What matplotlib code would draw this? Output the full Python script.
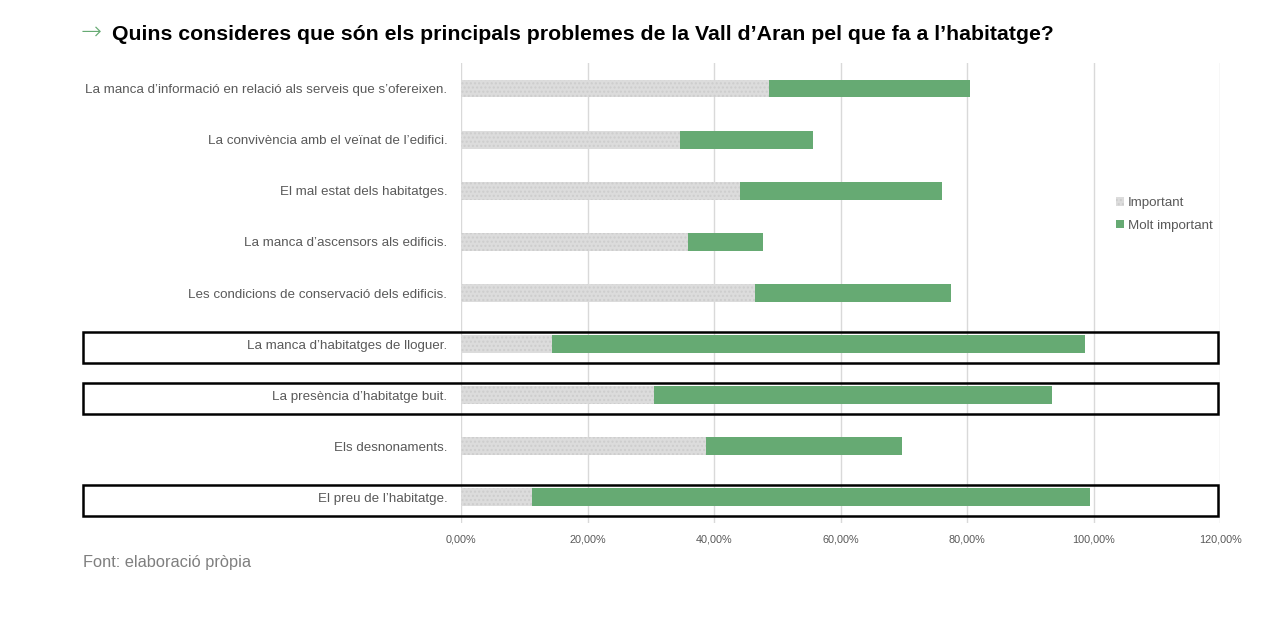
import matplotlib
matplotlib.use("Agg")
import matplotlib.pyplot as plt
from matplotlib.patches import Rectangle, Patch
from matplotlib.ticker import FuncFormatter
from matplotlib.transforms import blended_transform_factory

# data (percent), top row first
problems = [
    "La manca d\u2019informació en relació als serveis que s\u2019ofereixen.",
    "La convivència amb el veïnat de l\u2019edifici.",
    "El mal estat dels habitatges.",
    "La manca d\u2019ascensors als edificis.",
    "Les condicions de conservació dels edificis.",
    "La manca d\u2019habitatges de lloguer.",
    "La presència d\u2019habitatge buit.",
    "Els desnonaments.",
    "El preu de l\u2019habitatge.",
]
important = [48.7, 34.5, 44.1, 35.9, 46.4, 14.3, 30.5, 38.7, 11.2]
molt_important = [31.7, 21.1, 31.9, 11.8, 31.0, 84.3, 62.9, 31.0, 88.2]
highlighted = [5, 6, 8]
xticks = [0, 20, 40, 60, 80, 100, 120]

GREEN = "#66AA73"
GREY = "#DCDCDC"
TXT = "#595959"
fam = ["Liberation Sans", "DejaVu Sans"]

fig = plt.figure(figsize=(12.8, 6.2), dpi=100)
ax = fig.add_axes([461.3 / 1280, 1 - 523 / 620, 759 / 1280, 460 / 620])

pos = list(range(len(problems)))
ax.barh(pos, important, height=0.35, color=GREY, edgecolor="#CDCDCD",
        linewidth=0, hatch="....", label="Important", zorder=2)
ax.barh(pos, molt_important, left=important, height=0.35, color=GREEN,
        linewidth=0, label="Molt important", zorder=2)

ax.set_xlim(0, 120)
ax.set_ylim(len(problems) - 0.5, -0.5)
ax.set_xticks(xticks)
ax.xaxis.set_major_formatter(FuncFormatter(lambda v, p: f"{v:.2f}%".replace(".", ",")))
ax.set_yticks(pos)
ax.set_yticklabels(problems)
ax.grid(axis="x", color="#D9D9D9", linewidth=1, zorder=0)
ax.tick_params(axis="y", length=0, pad=10, labelsize=9.6, labelcolor=TXT)
ax.tick_params(axis="x", length=0, pad=8, labelsize=7.8, labelcolor=TXT)
for lab in ax.get_yticklabels() + ax.get_xticklabels():
    lab.set_family(fam)
for s in ax.spines.values():
    s.set_visible(False)

# boxes around the key rows
tr = blended_transform_factory(fig.transFigure, ax.transData)
for r in highlighted:
    ax.add_patch(Rectangle((83 / 1280, r - 0.245), (1218 - 83) / 1280, 0.61,
                           transform=tr, fill=False, edgecolor="black",
                           linewidth=1.8, clip_on=False, zorder=5))

handles = [Patch(facecolor=GREY, edgecolor="#CDCDCD", linewidth=0, hatch="...."),
           Patch(facecolor=GREEN, linewidth=0)]
leg = fig.legend(handles, ["Important", "Molt important"], loc="upper left",
                 bbox_to_anchor=(1104 / 1280, 1 - 185 / 620), frameon=False,
                 handlelength=0.6, handleheight=0.6, handletextpad=0.3,
                 labelspacing=0.8, prop={"family": fam, "size": 9.6})
for t in leg.get_texts():
    t.set_color(TXT)

fig.text(81 / 1280, 1 - 33 / 620, "\u2192", color=GREEN, fontsize=18,
         va="center", fontweight="light")
fig.text(112 / 1280, 1 - 34 / 620,
         "Quins consideres que són els principals problemes de la Vall d\u2019Aran pel que fa a l\u2019habitatge?",
         fontsize=15.3, fontweight="bold", family=fam, va="center", color="black")
fig.text(83 / 1280, 1 - 562 / 620, "Font: elaboració pròpia", fontsize=11.8,
         family=fam, color="#7F7F7F", va="center")

fig.savefig("out.png", dpi=100)
